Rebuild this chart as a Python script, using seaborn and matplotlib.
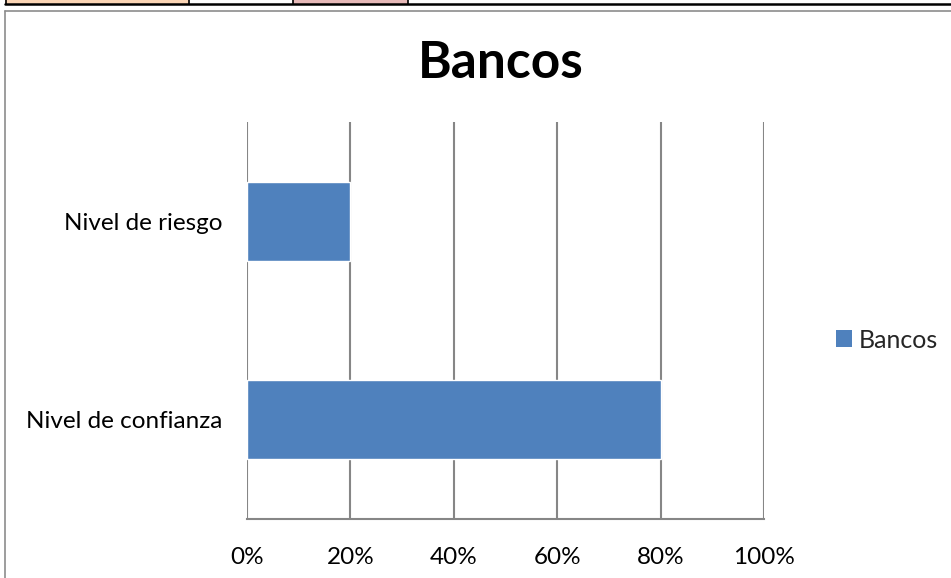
import matplotlib
matplotlib.use("Agg")
import matplotlib.pyplot as plt
from matplotlib.patches import Rectangle, Patch
from matplotlib.lines import Line2D
from matplotlib.ticker import PercentFormatter
import seaborn as sns
import pandas as pd

categories = ["Nivel de riesgo", "Nivel de confianza"]
values = [0.20, 0.80]
series_name = "Bancos"
x_ticks = [0.0, 0.2, 0.4, 0.6, 0.8, 1.0]

sns.set_theme(style="white")
plt.rcParams["font.family"] = ["Lato", "DejaVu Sans"]

W, H = 951, 578
fig = plt.figure(figsize=(W / 100, H / 100), dpi=100)

def fx(px):
    return px / W

def fy(py):
    return 1 - py / H

# table row above the chart
strip = [(5, 189, "#FBD5B5"), (189, 293, "#FFFFFF"), (293, 408, "#E6B9B8"), (408, 951, "#FFFFFF")]
for x0, x1, c in strip:
    fig.patches.append(Rectangle((fx(x0), fy(4)), fx(x1 - x0), 4 / H, transform=fig.transFigure,
                                 facecolor=c, edgecolor="none", zorder=0))
fig.lines.append(Line2D([fx(5), 1], [fy(3.8), fy(3.8)], transform=fig.transFigure, color="black", lw=1.8))
for xv in (5.5, 189, 293, 408):
    fig.lines.append(Line2D([fx(xv), fx(xv)], [1, fy(3.8)], transform=fig.transFigure, color="black", lw=1.2))

# chart frame
fig.lines.append(Line2D([fx(4.5), fx(4.5)], [0, fy(10.5)], transform=fig.transFigure, color="#8C8C8C", lw=1.2))
fig.lines.append(Line2D([fx(4.5), 1], [fy(10.5), fy(10.5)], transform=fig.transFigure, color="#8C8C8C", lw=1.2))

ax = fig.add_axes([fx(247), fy(519), fx(764 - 247), (519 - 122) / H])
df = pd.DataFrame({"categoria": categories, "valor": values})
sns.barplot(data=df, x="valor", y="categoria", orient="h", width=0.4, color="#4F81BD",
            saturation=1, ax=ax, zorder=3)

ax.set_xlim(0, 1)
ax.set_xticks(x_ticks)
ax.xaxis.set_major_formatter(PercentFormatter(1.0, decimals=0))
ax.set_xlabel("")
ax.set_ylabel("")
ax.grid(axis="x", color="#868686", lw=1.5, zorder=0)
ax.grid(axis="y", visible=False)
ax.set_axisbelow(True)
for s in ("top", "right", "left"):
    ax.spines[s].set_visible(False)
ax.spines["bottom"].set_color("#868686")
ax.spines["bottom"].set_linewidth(1.5)
ax.tick_params(axis="both", length=0, labelsize=17.5, colors="black")
ax.tick_params(axis="x", pad=20)
ax.tick_params(axis="y", pad=18)

fig.text(fx(501), fy(63), series_name, ha="center", va="center", fontsize=37, fontweight="bold", color="black")

handle = Patch(facecolor="#4F81BD", edgecolor="none", label=series_name)
fig.legend(handles=[handle], loc="center left", bbox_to_anchor=(fx(836), fy(340)), frameon=False,
           fontsize=18, handlelength=0.65, handleheight=0.65, handletextpad=0.25, borderpad=0,
           borderaxespad=0)

fig.savefig("out.png", dpi=100, facecolor="white")
